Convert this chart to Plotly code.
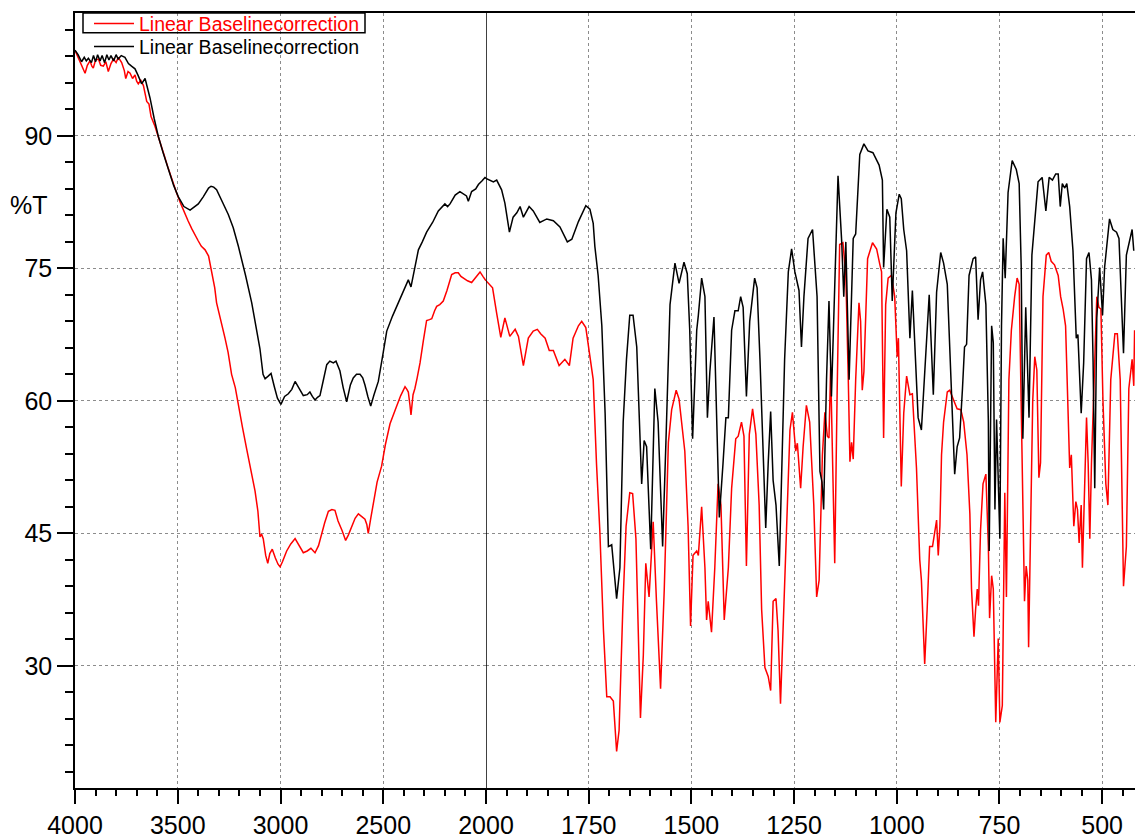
import plotly.graph_objects as go

# ---------------- data (wavenumber cm-1, %T) ----------------
red_hi = [
    (4000, 99.7), (3985, 98.9), (3976, 98.3), (3962, 97.6), (3951, 97.1), (3940, 98.0), (3927, 98.5),
    (3918, 97.9), (3911, 97.7), (3900, 98.6), (3886, 98.7), (3875, 98.0), (3862, 97.9), (3850, 98.4),
    (3838, 97.3), (3825, 98.2), (3813, 98.7), (3800, 98.3), (3789, 98.9), (3773, 98.3), (3760, 97.4),
    (3753, 96.5), (3742, 97.3), (3732, 97.1), (3720, 96.5), (3708, 96.9), (3700, 96.2), (3692, 95.9),
    (3680, 96.3), (3667, 95.7), (3658, 94.8), (3651, 93.9), (3640, 93.6), (3630, 92.2), (3611, 91.1),
    (3586, 89.1), (3566, 87.8), (3546, 86.3), (3525, 84.8), (3505, 83.5), (3485, 82.3), (3465, 81.1),
    (3450, 80.4), (3432, 79.5), (3415, 78.7), (3400, 78.1), (3385, 77.5), (3367, 77.1), (3350, 76.4),
    (3335, 74.7), (3320, 72.8), (3311, 71.1), (3290, 69.2), (3270, 67.1), (3255, 65.5), (3238, 63.0),
    (3220, 61.5), (3205, 59.4), (3185, 57.0), (3165, 54.6), (3145, 52.2), (3124, 49.8), (3110, 47.5),
    (3100, 44.6), (3092, 44.9), (3084, 44.4), (3072, 42.5), (3062, 41.6), (3052, 42.7), (3040, 43.2),
    (3025, 42.2), (3012, 41.5), (3002, 41.2), (2990, 41.8), (2970, 43.0), (2950, 43.8), (2929, 44.4),
    (2910, 43.6), (2889, 42.8), (2870, 43.0), (2852, 43.3), (2840, 43.0), (2832, 42.8), (2815, 43.6),
    (2800, 45.0), (2785, 46.2), (2767, 47.5), (2750, 47.7), (2735, 47.6), (2720, 46.4), (2700, 45.3),
    (2683, 44.2), (2670, 44.8), (2654, 45.8), (2637, 46.7), (2621, 47.2), (2605, 46.9), (2589, 46.6),
    (2580, 46.0), (2573, 45.0), (2560, 46.8), (2548, 48.6), (2530, 50.8), (2508, 52.6), (2490, 55.0),
    (2467, 57.4), (2450, 58.6), (2435, 59.4), (2415, 60.6), (2394, 61.6), (2385, 61.3), (2378, 61.0),
    (2370, 59.5), (2365, 58.4), (2355, 60.7), (2346, 61.4), (2335, 62.6), (2321, 64.3), (2305, 66.8),
    (2289, 69.1), (2275, 69.2), (2264, 69.3), (2250, 70.2), (2240, 70.7), (2225, 70.9), (2208, 71.3),
    (2190, 72.5), (2167, 74.3), (2150, 74.5), (2135, 74.5), (2122, 74.1), (2110, 73.9), (2090, 73.6),
    (2070, 73.4), (2050, 74.0), (2029, 74.6), (2015, 74.1), (2005, 73.7), (2000, 73.6),
]

red_lo = [
    (2000, 73.6), (1994, 73.3), (1984, 72.8), (1974, 69.9), (1964, 67.2), (1954, 69.4), (1942, 67.3),
    (1929, 68.1), (1921, 67.3), (1909, 64.0), (1897, 67.1), (1885, 67.9), (1875, 68.1), (1867, 67.6),
    (1856, 67.1), (1846, 65.7), (1836, 65.7), (1822, 64.0), (1808, 64.7), (1797, 64.0), (1788, 67.1),
    (1775, 68.5), (1767, 69.0), (1757, 68.3), (1747, 64.7), (1739, 62.4), (1731, 52.9), (1723, 45.4),
    (1714, 34.0), (1706, 26.5), (1698, 26.5), (1690, 26.0), (1682, 20.3), (1676, 22.7), (1667, 36.4),
    (1659, 45.8), (1650, 49.6), (1643, 49.5), (1635, 44.4), (1629, 34.0), (1624, 24.1), (1617, 31.2),
    (1611, 41.6), (1603, 37.8), (1593, 46.3), (1585, 37.3), (1575, 27.4), (1566, 38.7), (1556, 55.3),
    (1548, 59.0), (1537, 61.2), (1530, 60.2), (1516, 54.3), (1508, 45.8), (1502, 34.5), (1496, 42.5),
    (1487, 43.0), (1483, 42.5), (1475, 48.0), (1467, 41.1), (1463, 35.2), (1459, 37.3), (1451, 33.8),
    (1443, 41.1), (1435, 50.6), (1428, 48.2), (1420, 35.2), (1410, 41.1), (1402, 50.1), (1392, 55.7),
    (1386, 56.0), (1378, 57.6), (1372, 56.0), (1366, 41.3), (1359, 56.2), (1351, 59.1), (1343, 56.2),
    (1335, 48.2), (1329, 36.4), (1321, 29.8), (1313, 28.8), (1307, 27.2), (1301, 37.3), (1294, 37.6),
    (1289, 34.0), (1283, 25.7), (1277, 34.0), (1268, 48.2), (1260, 56.7), (1254, 58.7), (1246, 54.3),
    (1242, 55.2), (1234, 50.1), (1228, 54.8), (1220, 59.5), (1212, 57.6), (1202, 48.2), (1195, 37.8),
    (1189, 39.7), (1181, 53.9), (1175, 58.7), (1169, 56.0), (1165, 55.8), (1161, 63.8), (1155, 52.0),
    (1151, 41.6), (1145, 61.4), (1139, 77.7), (1131, 77.9), (1124, 74.2), (1118, 62.4), (1114, 53.1),
    (1110, 55.3), (1106, 53.4), (1100, 62.4), (1092, 71.1), (1088, 69.0), (1084, 61.2), (1080, 63.3),
    (1071, 76.1), (1059, 77.9), (1049, 77.2), (1041, 75.4), (1037, 74.6), (1032, 55.8), (1027, 70.9),
    (1021, 73.9), (1013, 74.2), (1005, 71.8), (999, 65.0), (996, 67.1), (989, 50.3), (983, 58.6),
    (976, 62.8), (968, 60.7), (962, 60.8), (952, 52.4), (944, 42.0), (940, 39.7), (932, 30.2),
    (926, 36.4), (920, 43.5), (913, 43.5), (908, 44.9), (903, 46.5), (899, 42.5), (895, 45.8),
    (891, 53.9), (886, 57.6), (877, 61.0), (871, 61.2), (861, 60.0), (853, 59.1), (844, 59.0),
    (837, 57.6), (829, 53.9), (822, 47.2), (818, 38.7), (812, 33.3), (808, 36.4), (804, 38.7),
    (801, 36.8), (796, 45.4), (790, 50.6), (783, 51.7), (777, 43.5), (774, 35.4), (769, 40.2),
    (765, 38.7), (759, 23.6), (753, 33.1), (749, 23.6), (743, 25.5), (737, 49.6), (733, 37.8),
    (727, 62.4), (721, 68.0), (713, 71.8), (707, 73.9), (702, 73.2), (697, 58.6), (693, 45.8),
    (689, 37.3), (685, 41.3), (681, 39.7), (679, 32.1), (673, 48.2), (669, 60.0), (664, 65.0),
    (659, 63.5), (654, 51.3), (650, 53.0), (644, 71.8), (636, 76.5), (630, 76.8), (624, 75.8),
    (616, 75.4), (607, 74.2), (601, 71.8), (595, 70.4), (589, 68.5), (583, 58.6), (579, 52.4),
    (575, 53.9), (569, 45.8), (564, 48.6), (560, 47.7), (556, 43.9), (551, 48.2), (548, 41.1),
    (542, 52.9), (538, 58.1), (534, 52.9), (530, 44.4), (526, 52.9), (520, 62.4), (513, 71.8),
    (508, 70.6), (503, 70.4), (498, 60.0), (491, 50.6), (486, 48.2), (479, 62.4), (469, 67.6),
    (463, 67.6), (456, 62.4), (452, 48.2), (448, 39.0), (441, 43.5), (435, 61.4), (427, 64.7),
    (423, 61.7), (421, 68.0),
]

black_hi = [
    (4000, 99.7), (3985, 99.2), (3968, 98.4), (3955, 98.9), (3945, 98.5), (3935, 98.8), (3920, 98.3),
    (3910, 99.1), (3900, 98.4), (3890, 99.2), (3878, 98.5), (3868, 99.1), (3856, 98.3), (3845, 99.2),
    (3835, 98.6), (3825, 99.1), (3812, 98.5), (3800, 99.2), (3790, 98.7), (3775, 99.1), (3757, 98.9),
    (3740, 98.2), (3725, 97.9), (3708, 97.6), (3692, 96.8), (3676, 95.9), (3659, 96.5), (3645, 95.2),
    (3635, 94.3), (3615, 92.0), (3594, 89.9), (3570, 88.0), (3546, 86.3), (3520, 84.4), (3497, 83.1),
    (3470, 82.0), (3440, 81.6), (3420, 81.9), (3400, 82.3), (3376, 83.1), (3350, 84.1), (3338, 84.3),
    (3325, 84.2), (3311, 83.9), (3290, 82.8), (3254, 81.1), (3230, 79.6), (3205, 77.5), (3170, 74.2),
    (3140, 71.1), (3120, 68.5), (3100, 65.9), (3085, 63.0), (3075, 62.5), (3060, 62.8), (3046, 63.1),
    (3030, 61.6), (3015, 60.3), (2998, 59.6), (2980, 60.5), (2962, 60.8), (2945, 61.3), (2929, 62.2),
    (2910, 61.5), (2889, 60.6), (2870, 60.7), (2857, 61.0), (2845, 60.5), (2832, 60.1), (2820, 60.4),
    (2808, 60.6), (2790, 62.5), (2775, 64.1), (2760, 64.5), (2743, 64.3), (2730, 64.5), (2711, 63.4),
    (2695, 61.5), (2678, 59.9), (2660, 61.8), (2646, 62.6), (2630, 63.0), (2613, 63.0), (2600, 62.6),
    (2589, 61.8), (2575, 60.5), (2561, 59.4), (2545, 60.7), (2524, 62.2), (2500, 65.5), (2483, 67.9),
    (2455, 69.6), (2427, 71.1), (2400, 72.6), (2378, 73.7), (2365, 72.9), (2350, 74.5), (2329, 77.1),
    (2310, 78.0), (2289, 79.1), (2260, 80.2), (2232, 81.5), (2200, 82.3), (2187, 82.0), (2175, 82.3),
    (2150, 83.3), (2127, 83.7), (2110, 83.4), (2095, 83.2), (2086, 82.6), (2078, 83.3), (2070, 83.7),
    (2050, 84.0), (2037, 84.5), (2020, 84.9), (2005, 85.3), (2000, 85.2),
]

black_lo = [
    (2000, 85.2), (1982, 84.8), (1974, 85.0), (1962, 83.9), (1954, 82.4), (1943, 79.1), (1934, 80.8),
    (1925, 81.3), (1917, 82.0), (1909, 80.8), (1895, 82.0), (1885, 81.5), (1869, 80.2), (1852, 80.6),
    (1836, 80.4), (1820, 79.7), (1802, 78.0), (1791, 78.3), (1775, 80.3), (1757, 82.1), (1747, 81.7),
    (1739, 80.1), (1735, 77.5), (1727, 74.2), (1718, 68.5), (1710, 58.6), (1702, 43.5), (1694, 43.7),
    (1682, 37.6), (1674, 41.1), (1666, 57.6), (1658, 64.7), (1650, 69.7), (1642, 69.7), (1633, 66.1),
    (1627, 57.6), (1621, 50.6), (1615, 55.5), (1609, 54.8), (1599, 43.2), (1589, 61.4), (1581, 57.6),
    (1570, 43.5), (1562, 55.3), (1552, 70.9), (1540, 75.6), (1530, 73.3), (1518, 75.7), (1510, 74.4),
    (1504, 68.0), (1497, 55.7), (1487, 68.0), (1483, 69.7), (1475, 73.9), (1467, 71.8), (1461, 58.1),
    (1455, 63.3), (1445, 69.5), (1439, 57.6), (1432, 46.8), (1423, 52.9), (1416, 58.1), (1410, 58.1),
    (1402, 68.0), (1394, 70.2), (1386, 70.2), (1380, 71.8), (1374, 70.6), (1366, 60.5), (1358, 69.0),
    (1346, 73.9), (1340, 72.8), (1333, 64.7), (1325, 52.9), (1319, 45.6), (1313, 52.9), (1307, 58.8),
    (1301, 51.0), (1294, 48.2), (1286, 41.3), (1281, 50.6), (1273, 64.7), (1264, 74.6), (1256, 77.2),
    (1248, 74.6), (1238, 72.5), (1232, 66.1), (1226, 71.8), (1216, 78.4), (1205, 79.4), (1194, 71.8),
    (1187, 52.0), (1182, 50.8), (1178, 47.7), (1171, 62.4), (1165, 71.3), (1159, 60.5), (1151, 73.9),
    (1143, 85.5), (1134, 78.0), (1129, 71.8), (1124, 78.0), (1116, 62.4), (1106, 78.4), (1100, 78.9),
    (1090, 87.9), (1080, 89.1), (1070, 88.3), (1058, 88.1), (1043, 86.7), (1035, 85.0), (1032, 75.1),
    (1024, 81.7), (1017, 80.8), (1011, 71.3), (1002, 81.3), (994, 83.4), (989, 82.9), (983, 79.4),
    (976, 77.0), (968, 67.1), (962, 72.5), (954, 64.7), (948, 58.1), (940, 56.7), (932, 63.3),
    (921, 72.0), (911, 60.7), (903, 72.3), (893, 76.8), (886, 75.6), (877, 73.2), (871, 66.1),
    (865, 57.2), (859, 51.7), (853, 54.8), (847, 55.8), (840, 61.4), (835, 66.1), (830, 66.4),
    (824, 74.2), (814, 76.1), (808, 76.3), (802, 69.2), (796, 73.7), (791, 74.6), (783, 70.9),
    (777, 57.6), (775, 43.0), (769, 68.5), (765, 66.6), (761, 47.7), (757, 57.9), (749, 44.4),
    (745, 68.5), (741, 78.4), (736, 73.9), (729, 83.6), (719, 87.2), (709, 86.2), (702, 84.6),
    (697, 75.1), (693, 55.7), (686, 70.6), (678, 58.1), (671, 76.5), (664, 80.6), (656, 84.8),
    (646, 85.3), (637, 81.5), (629, 85.3), (621, 85.0), (613, 85.7), (607, 85.7), (602, 82.0),
    (597, 84.6), (591, 84.1), (586, 84.6), (579, 82.0), (571, 77.0), (563, 67.1), (559, 67.5),
    (551, 58.6), (545, 64.3), (538, 76.1), (532, 76.8), (526, 73.7), (522, 64.3), (518, 50.1),
    (513, 69.4), (506, 75.1), (499, 69.7), (494, 75.1), (488, 78.2), (482, 80.6), (474, 79.4),
    (465, 79.1), (459, 78.4), (453, 71.8), (448, 65.4), (441, 76.5), (435, 77.9), (427, 79.4),
    (423, 77.0),
]

series_name = "Linear Baselinecorrection"
x_ticks_hi = [4000, 3500, 3000, 2500]
x_ticks_lo = [2000, 1750, 1500, 1250, 1000, 750, 500]
y_ticks = [30, 45, 60, 75, 90]

# ---------------- figure ----------------
FONT = "Liberation Sans, Arial, sans-serif"
RED = "#ff0000"
BLACK = "#000000"

def xs(seg):
    return [p[0] for p in seg]

def ys(seg):
    return [p[1] for p in seg]

fig = go.Figure()
fig.add_trace(go.Scatter(x=xs(red_hi), y=ys(red_hi), mode="lines", xaxis="x", yaxis="y",
                         line=dict(color=RED, width=1.5), legendgroup="r", legend="legend",
                         name='<span style="color:#ff0000">' + series_name + '</span>'))
fig.add_trace(go.Scatter(x=xs(black_hi), y=ys(black_hi), mode="lines", xaxis="x", yaxis="y",
                         line=dict(color=BLACK, width=1.5), legendgroup="b", legend="legend2",
                         name=series_name))
fig.add_trace(go.Scatter(x=xs(red_lo), y=ys(red_lo), mode="lines", xaxis="x2", yaxis="y",
                         line=dict(color=RED, width=1.5), legendgroup="r", showlegend=False))
fig.add_trace(go.Scatter(x=xs(black_lo), y=ys(black_lo), mode="lines", xaxis="x2", yaxis="y",
                         line=dict(color=BLACK, width=1.5), legendgroup="b", showlegend=False))

W, H = 1135, 839
ML, MR, MT, MB = 75, 0, 13, 45
plot_w = W - ML - MR
plot_h = H - MT - MB
split = 411.0 / plot_w

hi_minor = [v for v in range(3900, 2000, -100) if v % 500 != 0]
lo_minor = [v for v in range(1950, 420, -50) if v % 250 != 0]
y_minor = [v for v in range(18, 104, 3) if v % 15 != 0]

axis_common = dict(
    showline=True, linecolor="black", linewidth=1.5, mirror=True,
    ticks="outside", ticklen=14, tickwidth=1.5, tickcolor="black",
    showgrid=True, gridcolor="#8c8c8c", gridwidth=1, griddash="dot",
    zeroline=False, tickfont=dict(family=FONT, size=25, color="black"),
)

legend_common = dict(xanchor="left", yanchor="middle", bgcolor="rgba(0,0,0,0)",
                     borderwidth=0, itemwidth=40,
                     font=dict(family=FONT, size=19.5, color="black"))

fig.update_layout(
    width=W, height=H,
    margin=dict(l=ML, r=MR, t=MT, b=MB, pad=0),
    paper_bgcolor="white", plot_bgcolor="white",
    showlegend=True,
    legend=dict(x=(89 - ML) / plot_w, y=(H - MB - 24) / plot_h, **legend_common),
    legend2=dict(x=(89 - ML) / plot_w, y=(H - MB - 47) / plot_h, **legend_common),
    xaxis=dict(domain=[0, split], range=[4000, 2000], anchor="y",
               tickmode="array", tickvals=x_ticks_hi, ticktext=[str(v) for v in x_ticks_hi],
               minor=dict(tickmode="array", tickvals=hi_minor, ticks="outside", ticklen=6,
                          tickwidth=1.5, tickcolor="black", showgrid=False),
               **axis_common),
    xaxis2=dict(domain=[split, 1], range=[2000, 420], anchor="y",
                tickmode="array", tickvals=x_ticks_lo, ticktext=[str(v) for v in x_ticks_lo],
                minor=dict(tickmode="array", tickvals=lo_minor, ticks="outside", ticklen=6,
                           tickwidth=1.5, tickcolor="black", showgrid=False),
                **axis_common),
    yaxis=dict(range=[16.16, 103.92], anchor="x",
               showline=True, linecolor="black", linewidth=1.5, mirror=False,
               ticks="outside", ticklen=16, tickwidth=1.5, tickcolor="black",
               tickmode="array", tickvals=y_ticks, ticktext=[str(v) for v in y_ticks],
               minor=dict(tickmode="array", tickvals=y_minor, ticks="outside", ticklen=8,
                          tickwidth=1.5, tickcolor="black", showgrid=False),
               showgrid=True, gridcolor="#8c8c8c", gridwidth=1, griddash="dot",
               zeroline=False, tickfont=dict(family=FONT, size=25, color="black")),
)

# solid divider at 2000 cm-1 (axis break)
fig.add_shape(type="line", xref="x2", yref="paper", x0=2000, x1=2000, y0=0, y1=1,
              line=dict(color="black", width=1.5), layer="above")
# frame around the first legend entry
fig.add_shape(type="rect", xref="paper", yref="paper",
              x0=(83 - ML) / plot_w, x1=(365 - ML) / plot_w,
              y0=(H - MB - 33) / plot_h, y1=1.0,
              line=dict(color="black", width=1.5), fillcolor="rgba(0,0,0,0)", layer="above")

# y-axis unit label
fig.add_annotation(text="%T", xref="paper", yref="paper", x=0, y=(H - MB - 206) / plot_h,
                   xanchor="right", yanchor="middle", xshift=-25, showarrow=False,
                   font=dict(family=FONT, size=25, color="black"))

fig.write_html("out.html", config={"displayModeBar": False},
               post_script="document.body.style.margin='0';document.body.style.overflow='hidden';")
